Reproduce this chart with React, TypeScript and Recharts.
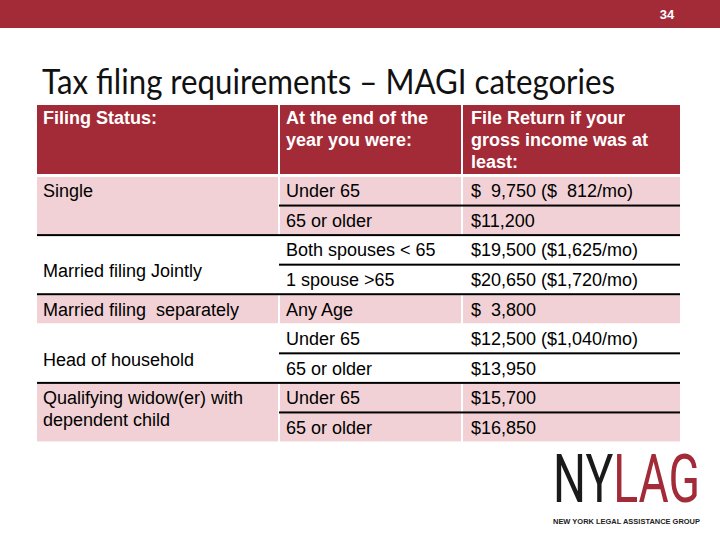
import { Bar, BarChart, LabelList, XAxis, YAxis } from 'recharts';

const HEADERS = ['Filing Status:', 'At the end of the\nyear you were:', 'File Return if your\ngross income was at\nleast:'];

const STATUSES = [
  'Single',
  'Married filing Jointly',
  'Married filing  separately',
  'Head of household',
  'Qualifying widow(er) with\ndependent child',
];
// how many age rows sit under each filing status
const STATUS_ROWS = [2, 2, 1, 2, 2];

const AGES = [
  'Under 65',
  '65 or older',
  'Both spouses < 65',
  '1 spouse >65',
  'Any Age',
  'Under 65',
  '65 or older',
  'Under 65',
  '65 or older',
];

const INCOMES = [
  '$  9,750 ($  812/mo)',
  '$11,200',
  '$19,500 ($1,625/mo)',
  '$20,650 ($1,720/mo)',
  '$  3,800',
  '$12,500 ($1,040/mo)',
  '$13,950',
  '$15,700',
  '$16,850',
];

// status cells whose text is centred in the merged cell (others sit at the top)
const MIDDLE_STATUS = ['Married filing Jointly', 'Head of household'];

const RED = '#a32b38';
const PINK = '#f1d1d5';
const FONT = '"Liberation Sans", Arial, sans-serif';
const COL_WIDTHS = [242, 183, 218];
const TABLE_W = COL_WIDTHS[0] + COL_WIDTHS[1] + COL_WIDTHS[2];
const TEXT_PAD = [6, 7, 9];
const LINE_H = 22;

const headerData = [
  { key: 'head', c1: COL_WIDTHS[0], c2: COL_WIDTHS[1], c3: COL_WIDTHS[2], h1: HEADERS[0], h2: HEADERS[1], h3: HEADERS[2] },
];

const rows = (() => {
  const out: any[] = [];
  let prevSingle = false;
  STATUSES.forEach((status, g) => {
    const n = STATUS_ROWS[g];
    for (let k = 0; k < n; k++) {
      const i = out.length;
      out.push({
        key: 'r' + i,
        c1: COL_WIDTHS[0],
        c2: COL_WIDTHS[1],
        c3: COL_WIDTHS[2],
        status: k === 0 ? status : '',
        age: AGES[i],
        income: INCOMES[i],
        group: g,
        first: k === 0,
        last: k === n - 1,
        lineAbove: i > 0 && !prevSingle,
      });
      prevSingle = n === 1;
    }
  });
  return out;
})();

function box(props: any) {
  const vb = props.viewBox || {};
  return {
    x: props.x ?? vb.x,
    y: props.y ?? vb.y,
    width: props.width ?? vb.width,
    height: props.height ?? vb.height,
  };
}

function Lines({ text, x, y, bold, color }: { text: string; x: number; y: number; bold?: boolean; color: string }) {
  const parts = text.split('\n');
  return (
    <text
      x={x}
      y={y}
      fontFamily={FONT}
      fontSize={18}
      fontWeight={bold ? 700 : 400}
      fill={color}
      xmlSpace="preserve"
      style={{ whiteSpace: 'pre' }}
    >
      {parts.map((p, i) => (
        <tspan key={i} x={x} dy={i === 0 ? '0.35em' : LINE_H}>
          {p}
        </tspan>
      ))}
    </text>
  );
}

function headerShape(col: number) {
  return (props: any) => {
    const { x, y, width, height } = props;
    const l = col === 0 ? 0 : 1;
    const r = col === 2 ? 0 : 1;
    return <rect x={x + l} y={y} width={width - l - r} height={height - 1} fill={RED} />;
  };
}

function headerLabel(col: number) {
  return (props: any) => {
    const { x, y } = box(props);
    if (props.value == null) return null;
    return <Lines text={String(props.value)} x={x + TEXT_PAD[col]} y={y + 13} bold color="#fff" />;
  };
}

function bodyShape(col: number) {
  return (props: any) => {
    const { x, y, width, height } = props;
    const row = props.payload && props.payload.key ? props.payload : rows[props.index];
    const l = col === 0 ? 0 : 1;
    const r = col === 2 ? 0 : 1;
    const top = row.first ? 1 : 0;
    const bot = row.last ? 1 : 0;
    const fill = row.group % 2 === 0 ? PINK : '#fff';
    const drawLine = row.lineAbove && (col > 0 || row.first);
    return (
      <g>
        <rect x={x + l} y={y + top} width={width - l - r} height={height - top - bot} fill={fill} />
        {drawLine && <rect x={x} y={y - 1} width={width} height={2} fill="#000" />}
      </g>
    );
  };
}

function statusLabel(props: any) {
  const { x, y, height } = box(props);
  const value = props.value ? String(props.value) : '';
  if (!value) return null;
  const g = STATUSES.indexOf(value);
  const span = STATUS_ROWS[g] * height;
  const cy = MIDDLE_STATUS.includes(value) ? y + span / 2 + 6 : y + height / 2;
  return <Lines text={value} x={x + TEXT_PAD[0]} y={cy} color="#000" />;
}

function plainLabel(col: number) {
  return (props: any) => {
    const { x, y, height } = box(props);
    if (!props.value) return null;
    return <Lines text={String(props.value)} x={x + TEXT_PAD[col]} y={y + height / 2} color="#000" />;
  };
}

export default function App() {
  return (
    <div style={{ position: 'absolute', left: 0, top: 0, width: 720, height: 540, background: '#fff', overflow: 'hidden' }}>
      <svg width={720} height={540} style={{ position: 'absolute', left: 0, top: 0 }}>
        <rect x={0} y={0} width={720} height={28} fill={RED} />
        <text x={667} y={14} dy="0.35em" textAnchor="middle" fontFamily={FONT} fontSize={13} fontWeight={700} fill="#fff">
          34
        </text>
        <text x={42} y={94} fontFamily="Lato, 'Open Sans', sans-serif" fontSize={35} fill="#111" textLength={573} lengthAdjust="spacingAndGlyphs">
          Tax filing requirements – MAGI categories
        </text>
        <g transform="translate(553 502) scale(1 1.45)">
          <text x={0} y={0} fontFamily="Roboto, 'Liberation Sans', sans-serif" fontWeight={400} fontSize={46} textLength={147} lengthAdjust="spacingAndGlyphs">
            <tspan fill="#1a1a1a">NY</tspan>
            <tspan fill={RED}>LAG</tspan>
          </text>
        </g>
        <text x={553} y={524} fontFamily={FONT} fontSize={7.5} fontWeight={700} fill="#222" textLength={147} lengthAdjust="spacingAndGlyphs">
          NEW YORK LEGAL ASSISTANCE GROUP
        </text>
      </svg>

      <div style={{ position: 'absolute', left: 37, top: 105 }}>
        <BarChart width={TABLE_W} height={70} data={headerData} layout="vertical" barCategoryGap={0} margin={{ top: 0, right: 0, bottom: 0, left: 0 }}>
          <XAxis type="number" hide domain={[0, TABLE_W]} />
          <YAxis type="category" dataKey="key" hide width={0} />
          <Bar dataKey="c1" stackId="h" isAnimationActive={false} shape={headerShape(0)}>
            <LabelList dataKey="h1" content={headerLabel(0)} />
          </Bar>
          <Bar dataKey="c2" stackId="h" isAnimationActive={false} shape={headerShape(1)}>
            <LabelList dataKey="h2" content={headerLabel(1)} />
          </Bar>
          <Bar dataKey="c3" stackId="h" isAnimationActive={false} shape={headerShape(2)}>
            <LabelList dataKey="h3" content={headerLabel(2)} />
          </Bar>
        </BarChart>
      </div>

      <div style={{ position: 'absolute', left: 37, top: 176 }}>
        <BarChart width={TABLE_W} height={266} data={rows} layout="vertical" barCategoryGap={0} margin={{ top: 0, right: 0, bottom: 0, left: 0 }}>
          <XAxis type="number" hide domain={[0, TABLE_W]} />
          <YAxis type="category" dataKey="key" hide width={0} />
          <Bar dataKey="c1" stackId="b" isAnimationActive={false} shape={bodyShape(0)}>
            <LabelList dataKey="status" content={statusLabel} />
          </Bar>
          <Bar dataKey="c2" stackId="b" isAnimationActive={false} shape={bodyShape(1)}>
            <LabelList dataKey="age" content={plainLabel(1)} />
          </Bar>
          <Bar dataKey="c3" stackId="b" isAnimationActive={false} shape={bodyShape(2)}>
            <LabelList dataKey="income" content={plainLabel(2)} />
          </Bar>
        </BarChart>
      </div>
    </div>
  );
}
